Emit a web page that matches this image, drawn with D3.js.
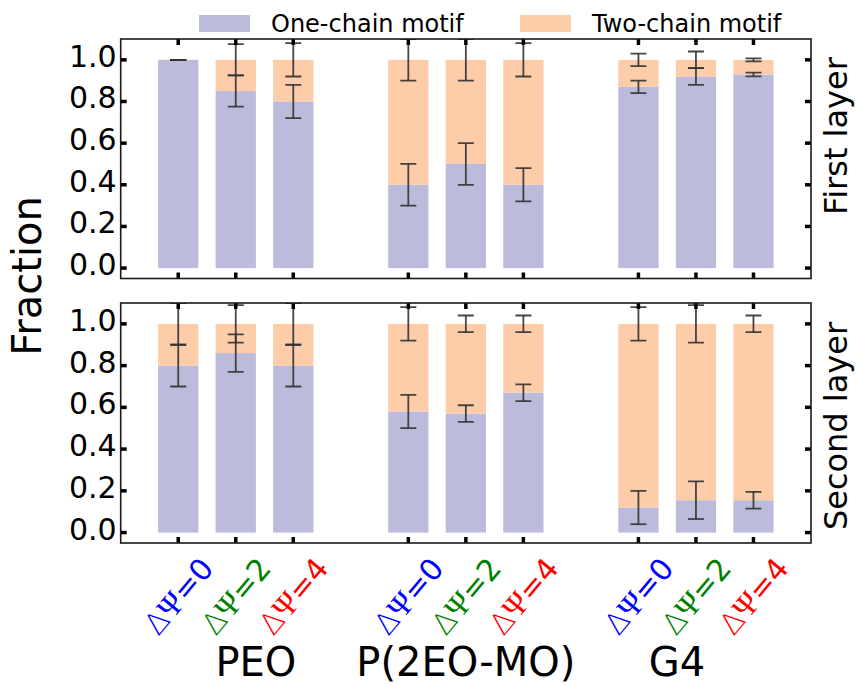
<!DOCTYPE html>
<html><head><meta charset="utf-8">
<script src="https://cdn.jsdelivr.net/npm/d3@7"></script>
<style>body{margin:0;background:#fff}</style>
</head><body>
<svg id="c" width="857" height="685" xmlns="http://www.w3.org/2000/svg"></svg>
<script>
// ---------- data ----------
const groups = ["PEO", "P(2EO-MO)", "G4"];
const psiValues = ["0", "2", "4"];
const psiColors = ["#0000ff", "#008000", "#ff0000"];
const seriesNames = ["One-chain motif", "Two-chain motif"];
const layerNames = ["First layer", "Second layer"];
const yTicks = [0.0, 0.2, 0.4, 0.6, 0.8, 1.0];
const yTickLabels = ["0.0", "0.2", "0.4", "0.6", "0.8", "1.0"];
// group label anchor in slot units
const groupLabelAt = [1.35, 5.0, 8.67];

// First layer: one-chain fraction and errors (one-chain, two-chain)
const oneFirst     = [1.00, 0.85, 0.80, 0.40, 0.50, 0.40, 0.87, 0.92, 0.93];
const oneFirstErr  = [0.00, 0.075, 0.08, 0.10, 0.10, 0.08, 0.03, 0.04, 0.009];
const twoFirstErr  = [0.00, 0.075, 0.08, 0.10, 0.10, 0.08, 0.03, 0.04, 0.007];
// Second layer
const oneSecond    = [0.80, 0.86, 0.80, 0.58, 0.57, 0.67, 0.12, 0.155, 0.155];
const oneSecondErr = [0.10, 0.09, 0.10, 0.08, 0.04, 0.04, 0.08, 0.09, 0.04];
const twoSecondErr = [0.10, 0.09, 0.10, 0.08, 0.04, 0.04, 0.08, 0.09, 0.04];

const colOne = "#bcbbdb";
const colTwo = "#fdcdaa";
const errCol = "#333333";

// ---------- layout ----------
const svg = d3.select("#c");
const L = 120.7, R = 811;
const panels = [
  {top: 39, bottom: 278.5, one: oneFirst, oneErr: oneFirstErr, twoErr: twoFirstErr, name: layerNames[0], labelY: 136},
  {top: 303, bottom: 543, one: oneSecond, oneErr: oneSecondErr, twoErr: twoSecondErr, name: layerNames[1], labelY: 426}
];

const bars = [];
groups.forEach((g, gi) => psiValues.forEach((p, pi) => bars.push({g, gi, p, pi, slot: gi * 4 + pi})));

const x = d3.scaleLinear().domain([-1, 11]).range([L, R]);
const barW = x(0.7) - x(0);
const capHalf = 8;

panels.forEach((P, k) => {
  const y = d3.scaleLinear().domain([-0.05, 1.1]).range([P.bottom, P.top]);
  const clipId = "clip" + k;
  svg.append("clipPath").attr("id", clipId).append("rect")
    .attr("x", L).attr("y", P.top).attr("width", R - L).attr("height", P.bottom - P.top);
  const g = svg.append("g");
  const data = bars.map((b, i) => Object.assign({}, b, {one: P.one[i], two: 1 - P.one[i], e1: P.oneErr[i], e2: P.twoErr[i]}));

  // bars
  g.selectAll("rect.one").data(data).join("rect").attr("class", "one")
    .attr("x", d => x(d.slot) - barW / 2).attr("width", barW)
    .attr("y", d => y(d.one)).attr("height", d => y(0) - y(d.one))
    .attr("fill", colOne);
  g.selectAll("rect.two").data(data).join("rect").attr("class", "two")
    .attr("x", d => x(d.slot) - barW / 2).attr("width", barW)
    .attr("y", d => y(d.one + d.two)).attr("height", d => y(d.one) - y(d.one + d.two))
    .attr("fill", colTwo);

  // error bars
  const eg = g.append("g").attr("clip-path", `url(#${clipId})`)
    .attr("stroke", errCol).attr("stroke-width", 1.8).attr("stroke-opacity", 0.9);
  const errs = [];
  data.forEach(d => {
    errs.push({xc: x(d.slot), c: d.one, e: d.e1});
    errs.push({xc: x(d.slot), c: d.one + d.two, e: d.e2});
  });
  errs.forEach(e => {
    eg.append("line").attr("x1", e.xc).attr("x2", e.xc).attr("y1", y(e.c - e.e)).attr("y2", y(e.c + e.e));
    eg.append("line").attr("x1", e.xc - capHalf).attr("x2", e.xc + capHalf).attr("y1", y(e.c - e.e)).attr("y2", y(e.c - e.e));
    eg.append("line").attr("x1", e.xc - capHalf).attr("x2", e.xc + capHalf).attr("y1", y(e.c + e.e)).attr("y2", y(e.c + e.e));
  });

  // ticks (inward) on all four sides
  const tl = 6, tw = 3.5, tc = "#000";
  const tg = g.append("g").attr("stroke", tc).attr("stroke-width", tw);
  data.forEach(d => {
    tg.append("line").attr("x1", x(d.slot)).attr("x2", x(d.slot)).attr("y1", P.top).attr("y2", P.top + tl);
    tg.append("line").attr("x1", x(d.slot)).attr("x2", x(d.slot)).attr("y1", P.bottom).attr("y2", P.bottom - tl);
  });
  yTicks.forEach(t => {
    tg.append("line").attr("x1", L).attr("x2", L + tl).attr("y1", y(t)).attr("y2", y(t));
    tg.append("line").attr("x1", R).attr("x2", R - tl).attr("y1", y(t)).attr("y2", y(t));
  });

  // frame
  g.append("rect").attr("x", L).attr("y", P.top).attr("width", R - L).attr("height", P.bottom - P.top)
    .attr("fill", "none").attr("stroke", "#1a1a1a").attr("stroke-width", 1.6);

  // y tick labels
  g.selectAll("text.yt").data(yTicks).join("text").attr("class", "yt")
    .attr("x", L - 4).attr("y", t => y(t) + 7)
    .attr("text-anchor", "end").attr("font-family", "DejaVu Sans").attr("font-size", 30).attr("fill", "#000")
    .text((t, i) => yTickLabels[i]);

  // right layer label
  svg.append("text").attr("transform", `translate(847,${P.labelY}) rotate(-90)`)
    .attr("text-anchor", "middle").attr("font-family", "DejaVu Sans").attr("font-size", 32).attr("fill", "#000")
    .text(P.name);

  P.y = y;
});

// x tick labels (bottom panel only)
const rot = 50;
const theta = rot * Math.PI / 180;
const labTop = 555;
bars.forEach(b => {
  const t = svg.append("text").attr("font-size", 30).attr("fill", psiColors[b.pi])
    .attr("text-anchor", "middle").attr("dominant-baseline", "central");
  t.append("tspan").attr("font-family", "DejaVu Sans").attr("font-weight", 300).text("Δ");
  t.append("tspan").attr("font-family", "Liberation Serif").attr("font-size", 32).text("Ψ");
  t.append("tspan").attr("font-family", "DejaVu Sans").text("=" + b.p);
  const len = t.node().getComputedTextLength();
  const h = 22;
  const H = len * Math.sin(theta) + h * Math.cos(theta);
  t.attr("transform", `translate(${x(b.slot)},${labTop + H / 2}) rotate(${-rot})`);
});

// group labels
svg.selectAll("text.grp").data(groups).join("text").attr("class", "grp")
  .attr("x", (d, i) => x(groupLabelAt[i])).attr("y", 676)
  .attr("text-anchor", "middle").attr("font-family", "DejaVu Sans").attr("font-size", 40).attr("fill", "#000")
  .text(d => d);

// y axis title
svg.append("text").attr("transform", "translate(41,276) rotate(-90)")
  .attr("text-anchor", "middle").attr("font-family", "DejaVu Sans").attr("font-size", 40).attr("fill", "#000")
  .text("Fraction");

// legend
const legendX = [199, 520];
const legendCols = [colOne, colTwo];
seriesNames.forEach((s, i) => {
  svg.append("rect").attr("x", legendX[i]).attr("y", 15).attr("width", 51).attr("height", 17).attr("fill", legendCols[i]);
  svg.append("text").attr("x", legendX[i] + 72).attr("y", 32).attr("font-family", "DejaVu Sans").attr("font-size", 24)
    .attr("fill", "#000").text(s);
});
</script>
</body></html>
